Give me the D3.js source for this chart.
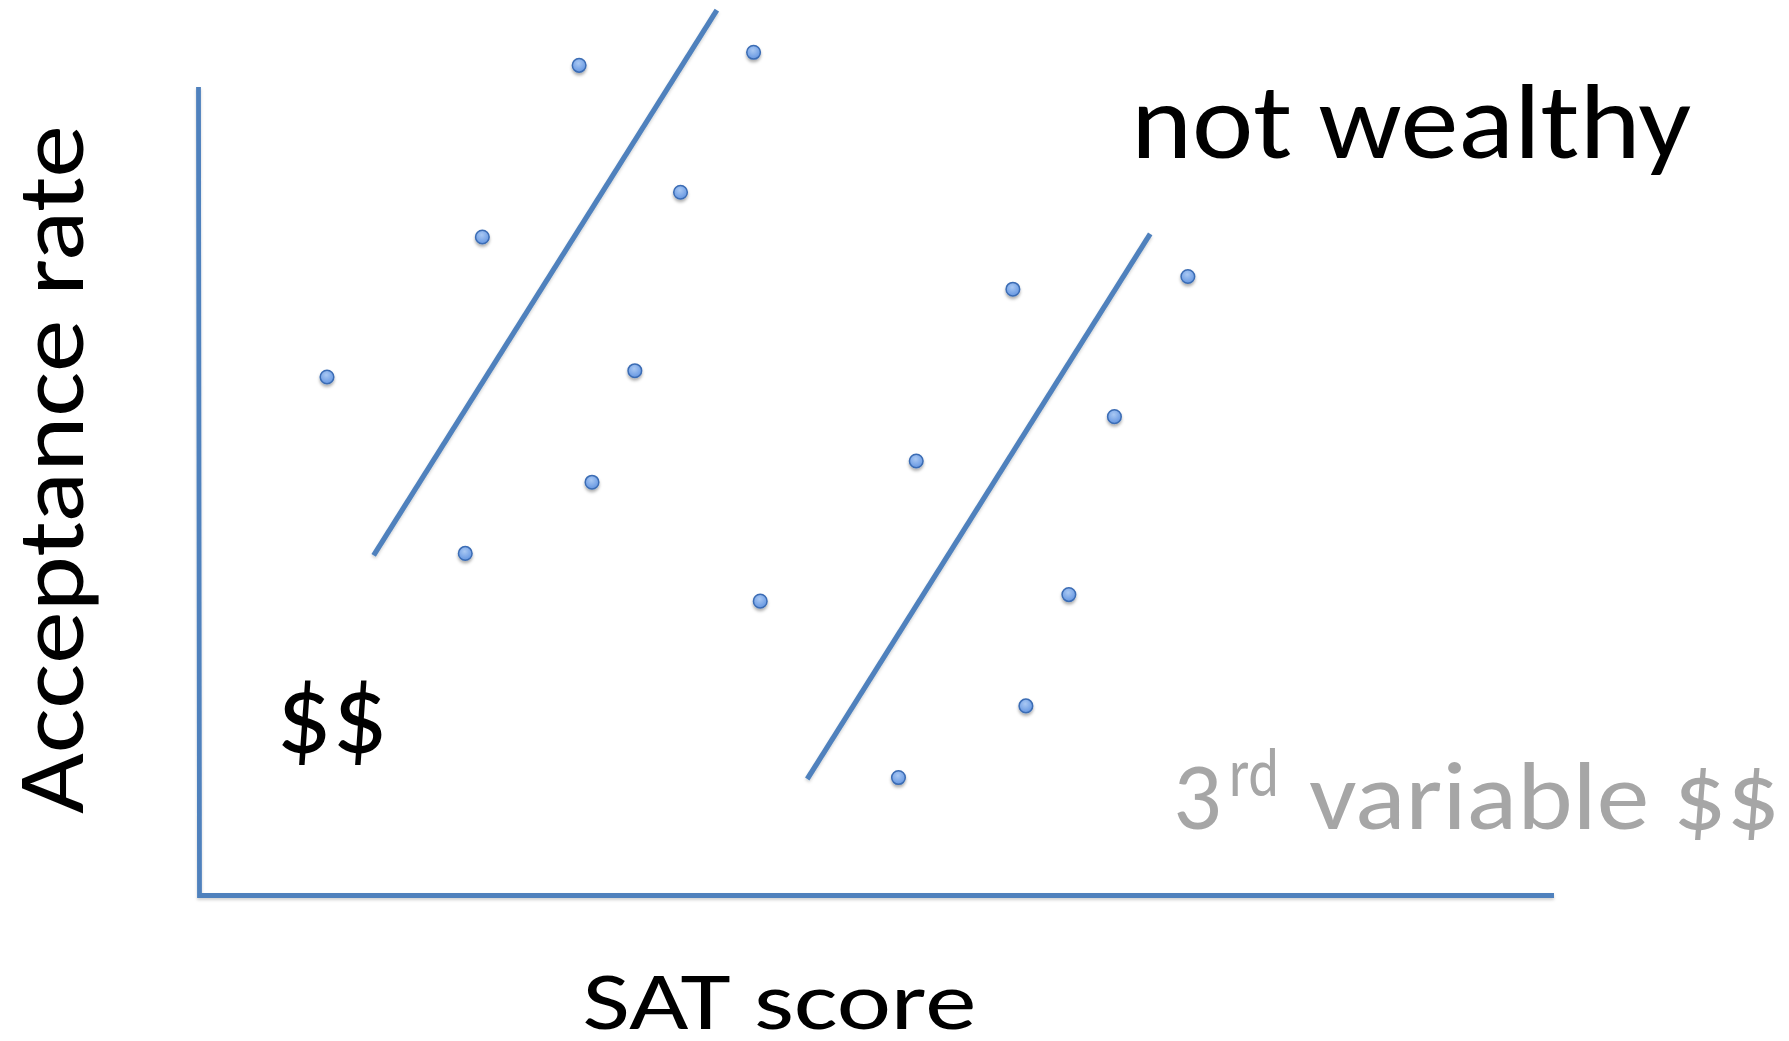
<!DOCTYPE html>
<html>
<head>
<meta charset="utf-8">
<script src="https://cdn.jsdelivr.net/npm/d3@7"></script>
<style>
  html, body { margin: 0; padding: 0; background: #ffffff; }
  svg { display: block; }
  text { font-family: Carlito, Calibri, Lato, "Open Sans", sans-serif; }
</style>
</head>
<body>
<svg id="chart" width="1789" height="1041"></svg>
<script>
// ---- data (abstract units: 0..100 along each axis) ----
const groupWealthyX = [9.48, 20.94, 28.08, 40.95, 35.56, 32.19, 29.03, 19.68, 41.44];
const groupWealthyY = [64.13, 81.45, 102.68, 104.29, 86.98, 64.91, 51.12, 42.31, 36.41];
const groupNotWealthyX = [60.08, 72.99, 52.95, 67.57, 64.21, 61.04, 51.64];
const groupNotWealthyY = [74.99, 76.56, 53.74, 59.23, 37.22, 23.45, 14.59];
const trendLineX = [[12.92, 38.24], [44.91, 70.21]];
const trendLineY = [[42.07, 109.50], [14.41, 81.84]];
const xAxisLabel = "SAT score";
const yAxisLabel = "Acceptance rate";
const labelWealthy = "$$";
const labelNotWealthy = "not wealthy";
const labelThird = ["3", "rd", "variable $$"];

const svg = d3.select("#chart");

const x = d3.scaleLinear().domain([0, 100]).range([198.5, 1554]);
const y = d3.scaleLinear().domain([0, 100]).range([895.5, 87]);

const defs = svg.append("defs");
const sh = defs.append("filter").attr("id", "shadow")
  .attr("x", "-50%").attr("y", "-50%").attr("width", "200%").attr("height", "200%");
sh.append("feDropShadow").attr("dx", 0).attr("dy", 2.4).attr("stdDeviation", 1.7)
  .attr("flood-color", "#000").attr("flood-opacity", 0.32);
const lsh = defs.append("filter").attr("id", "lshadow")
  .attr("x", "-10%").attr("y", "-10%").attr("width", "120%").attr("height", "120%");
lsh.append("feDropShadow").attr("dx", 0).attr("dy", 2).attr("stdDeviation", 1.5)
  .attr("flood-color", "#000").attr("flood-opacity", 0.18);
const grad = defs.append("radialGradient").attr("id", "dotgrad")
  .attr("cx", "45%").attr("cy", "35%").attr("r", "70%");
grad.append("stop").attr("offset", "0%").attr("stop-color", "#a9c8f3");
grad.append("stop").attr("offset", "100%").attr("stop-color", "#5f92e0");

// axes (L-shaped, no ticks)
svg.append("g").attr("filter", "url(#lshadow)")
  .append("path")
  .attr("d", d3.line()([[x(0), y(100)], [x(0) + 1, y(0)], [x(100), y(0)]]))
  .attr("fill", "none").attr("stroke", "#4f81bd").attr("stroke-width", 4.8);

// trend lines
const lineGen = d3.line().x(d => x(d[0])).y(d => y(d[1]));
const lines = trendLineX.map((xs, i) => xs.map((v, j) => [v, trendLineY[i][j]]));
svg.append("g").attr("filter", "url(#lshadow)")
  .selectAll("path").data(lines).join("path")
  .attr("d", lineGen)
  .attr("fill", "none").attr("stroke", "#4f81bd").attr("stroke-width", 5.2);

// points
const pts = groupWealthyX.map((v, i) => [v, groupWealthyY[i]])
  .concat(groupNotWealthyX.map((v, i) => [v, groupNotWealthyY[i]]));
svg.append("g").attr("filter", "url(#shadow)")
  .selectAll("circle").data(pts).join("circle")
  .attr("cx", d => x(d[0])).attr("cy", d => y(d[1]))
  .attr("r", 6.8)
  .attr("fill", "url(#dotgrad)").attr("stroke", "#3b6cb4").attr("stroke-width", 1.5);

// labels
svg.append("text").text(labelNotWealthy)
  .attr("x", 1131).attr("y", 157.5).attr("font-size", 108).attr("fill", "#000")
  .attr("textLength", 560).attr("lengthAdjust", "spacingAndGlyphs");

svg.append("text").text(labelWealthy)
  .attr("x", 276).attr("y", 752).attr("font-size", 114).attr("fill", "#000")
  .attr("textLength", 112).attr("lengthAdjust", "spacingAndGlyphs");

svg.append("text").text(xAxisLabel)
  .attr("x", 582.5).attr("y", 1029).attr("font-size", 82).attr("fill", "#000")
  .attr("textLength", 394).attr("lengthAdjust", "spacingAndGlyphs");

svg.append("text").text(yAxisLabel)
  .attr("transform", "translate(83,814) rotate(-90)")
  .attr("x", 0).attr("y", 0).attr("font-size", 95).attr("fill", "#000")
  .attr("textLength", 689).attr("lengthAdjust", "spacingAndGlyphs");

const gray = "#a6a6a6";
svg.append("text").text(labelThird[0])
  .attr("x", 1173).attr("y", 829).attr("font-size", 96).attr("fill", gray);
svg.append("text").text(labelThird[1])
  .attr("x", 1229).attr("y", 796).attr("font-size", 70).attr("fill", gray)
  .attr("textLength", 50).attr("lengthAdjust", "spacingAndGlyphs");
svg.append("text").text(labelThird[2])
  .attr("x", 1309).attr("y", 829).attr("font-size", 96).attr("fill", gray)
  .attr("textLength", 471).attr("lengthAdjust", "spacingAndGlyphs");
</script>
</body>
</html>
